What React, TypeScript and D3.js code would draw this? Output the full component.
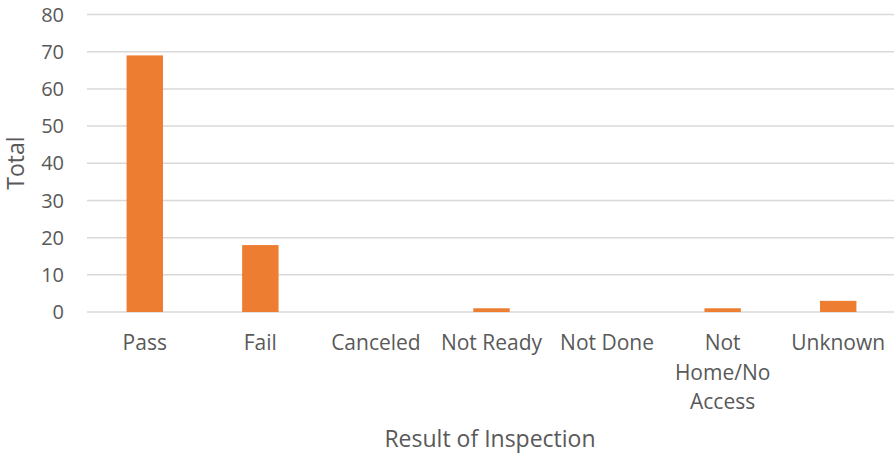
import React, { useEffect, useRef } from 'react';
import * as d3 from 'd3';

const categories: string[] = ['Pass', 'Fail', 'Canceled', 'Not Ready', 'Not Done', 'Not Home/No Access', 'Unknown'];
const totals: number[] = [69, 18, 0, 1, 0, 1, 3];
const yTicks: number[] = [0, 10, 20, 30, 40, 50, 60, 70, 80];
// how each label wraps under the axis
const labelLines: string[][] = [['Pass'], ['Fail'], ['Canceled'], ['Not Ready'], ['Not Done'], ['Not', 'Home/No', 'Access'], ['Unknown']];

const W = 894;
const H = 453;
const margin = { top: 14.5, right: -2, bottom: 141, left: 87 };
const font = '"Open Sans", sans-serif';

const App: React.FC = () => {
  const svgRef = useRef<SVGSVGElement | null>(null);

  useEffect(() => {
    if (!svgRef.current) return;
    const svg = d3.select(svgRef.current);
    svg.selectAll('*').remove();

    const x = d3.scaleBand<string>()
      .domain(categories)
      .range([margin.left, W - margin.right])
      .paddingInner(0.685)
      .paddingOuter(0.3425);
    const y = d3.scaleLinear().domain([0, 80]).range([H - margin.bottom, margin.top]);

    // gridlines
    svg.append('g')
      .selectAll('line')
      .data(yTicks)
      .enter()
      .append('line')
      .attr('x1', margin.left)
      .attr('x2', W - margin.right)
      .attr('y1', d => y(d))
      .attr('y2', d => y(d))
      .attr('stroke', '#d9d9d9')
      .attr('stroke-width', 1.5);

    // y tick labels
    svg.append('g')
      .selectAll('text')
      .data(yTicks)
      .enter()
      .append('text')
      .attr('x', 64)
      .attr('y', d => y(d))
      .attr('dy', '0.36em')
      .attr('text-anchor', 'end')
      .attr('font-family', font)
      .attr('font-size', '20px')
      .attr('fill', '#595959')
      .text(d => d);

    // bars
    svg.append('g')
      .selectAll('rect')
      .data(categories)
      .enter()
      .append('rect')
      .attr('x', d => x(d) ?? 0)
      .attr('width', x.bandwidth())
      .attr('y', (d, i) => y(totals[i]))
      .attr('height', (d, i) => y(0) - y(totals[i]))
      .attr('fill', '#ED7D31');

    // category labels
    const labels = svg.append('g')
      .selectAll('text')
      .data(categories)
      .enter()
      .append('text')
      .attr('x', d => (x(d) ?? 0) + x.bandwidth() / 2)
      .attr('y', 350)
      .attr('text-anchor', 'middle')
      .attr('font-family', font)
      .attr('font-size', '21px')
      .attr('fill', '#595959');
    labels.each(function (d, i) {
      const t = d3.select(this);
      labelLines[i].forEach((line, j) => {
        t.append('tspan')
          .attr('x', (x(d) ?? 0) + x.bandwidth() / 2)
          .attr('dy', j === 0 ? 0 : 29.5)
          .text(line);
      });
    });

    // axis titles
    svg.append('text')
      .attr('x', 490)
      .attr('y', 447)
      .attr('text-anchor', 'middle')
      .attr('font-family', font)
      .attr('font-size', '23px')
      .attr('fill', '#595959')
      .text('Result of Inspection');

    svg.append('text')
      .attr('transform', `translate(24, ${163}) rotate(-90)`)
      .attr('text-anchor', 'middle')
      .attr('font-family', font)
      .attr('font-size', '23px')
      .attr('fill', '#595959')
      .text('Total');
  }, []);

  return (
    <div style={{ position: 'absolute', left: 0, top: 0 }}>
      <svg ref={svgRef} width={W} height={H} style={{ display: 'block', background: '#fff' }}></svg>
    </div>
  );
};

export default App;
